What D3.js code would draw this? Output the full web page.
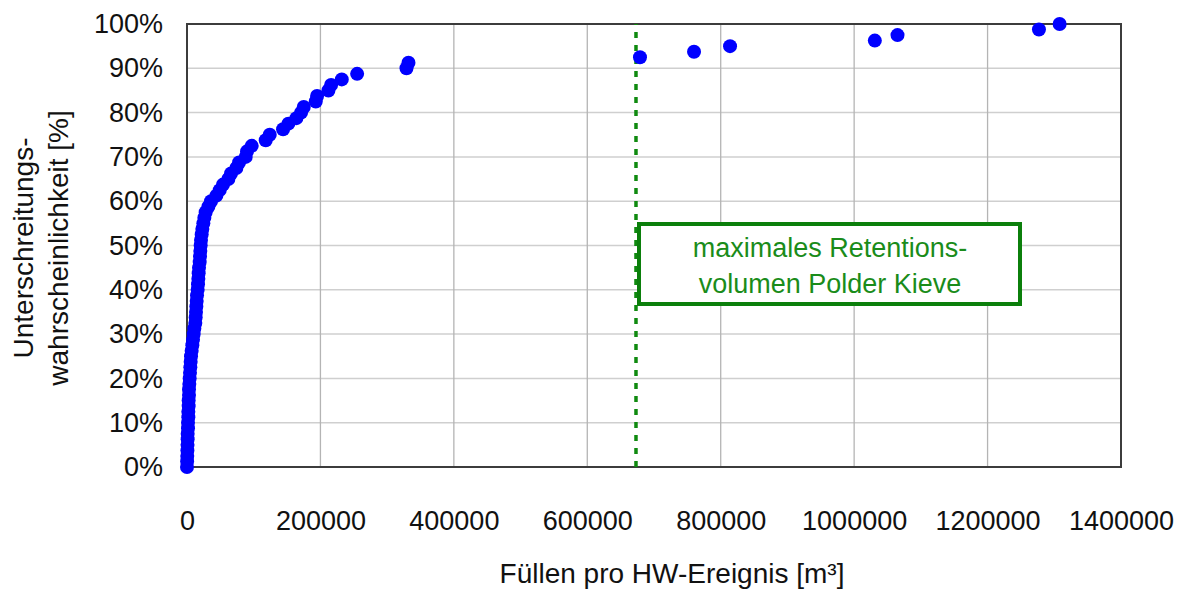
<!DOCTYPE html>
<html>
<head>
<meta charset="utf-8">
<script src="https://cdn.jsdelivr.net/npm/d3@7"></script>
<style>
  body { margin: 0; background: #fff; }
  svg { display: block; font-family: "Liberation Sans", Arial, sans-serif; }
</style>
</head>
<body>
<div id="chart"></div>
<script>
// Füllvolumen je Hochwasserereignis [m³], aufsteigend sortiert
var fuellen = [
    0, 200, 400, 600, 800, 1000, 1000, 1500, 1500, 2000,
    2000, 2500, 2500, 3000, 3000, 3500, 4000, 4500, 5000, 5500,
    6000, 7000, 8000, 9000, 10000, 11000, 12500, 13000, 13500, 14000,
    14500, 15000, 16000, 16500, 17000, 17500, 18000, 19000, 19500, 20000,
    20500, 21000, 22000, 23000, 24500, 26000, 28000, 32000, 36000, 44000,
    49000, 54000, 62000, 66000, 74000, 78000, 88000, 90000, 97000, 118000,
    124000, 144000, 152000, 164000, 171000, 175000, 193000, 195000, 212000, 216000,
    232000, 255000, 329000, 332000, 679000, 760000, 814000, 1031000, 1065000, 1277000,
    1308000
];
// Unterschreitungswahrscheinlichkeit
var wahrscheinlichkeit = [
    0, 0.0125, 0.025, 0.0375, 0.05, 0.0625, 0.075, 0.0875, 0.10, 0.1125,
    0.125, 0.1375, 0.15, 0.1625, 0.175, 0.1875, 0.20, 0.2125, 0.225, 0.2375,
    0.25, 0.2625, 0.275, 0.2875, 0.30, 0.3125, 0.325, 0.3375, 0.35, 0.3625,
    0.375, 0.3875, 0.40, 0.4125, 0.425, 0.4375, 0.45, 0.4625, 0.475, 0.4875,
    0.50, 0.5125, 0.525, 0.5375, 0.55, 0.5625, 0.575, 0.5875, 0.60, 0.6125,
    0.625, 0.6375, 0.65, 0.6625, 0.675, 0.6875, 0.70, 0.7125, 0.725, 0.7375,
    0.75, 0.7625, 0.775, 0.7875, 0.80, 0.8125, 0.825, 0.8375, 0.85, 0.8625,
    0.875, 0.8875, 0.90, 0.9125, 0.925, 0.9375, 0.95, 0.9625, 0.975, 0.9875,
    1.00
];
var xTicks = [0, 200000, 400000, 600000, 800000, 1000000, 1200000, 1400000];
var yTicks = [0, 0.1, 0.2, 0.3, 0.4, 0.5, 0.6, 0.7, 0.8, 0.9, 1.0];
var maxRetention = 673000;
var noteLines = ['maximales Retentions-', 'volumen Polder Kieve'];

var width = 1186,
    height = 590,
    margin = { top: 24, right: 65, bottom: 123, left: 187 };

var svg = d3.select('#chart').append('svg')
    .attr('width', width)
    .attr('height', height);

var x = d3.scaleLinear().domain([0, 1400000])
    .range([margin.left, width - margin.right]);
var y = d3.scaleLinear().domain([0, 1])
    .range([height - margin.bottom, margin.top]);

// gitterlinien
svg.append('g')
    .selectAll('line')
    .data(yTicks)
    .enter().append('line')
    .attr('x1', x(0)).attr('x2', x(1400000))
    .attr('y1', d => y(d)).attr('y2', d => y(d))
    .attr('stroke', '#cfcfcf')
    .attr('stroke-width', 1.5);

svg.append('g')
    .selectAll('line')
    .data(xTicks)
    .enter().append('line')
    .attr('x1', d => x(d)).attr('x2', d => x(d))
    .attr('y1', y(0)).attr('y2', y(1))
    .attr('stroke', '#b4b4b4')
    .attr('stroke-width', 1.3);

// rahmen
svg.append('rect')
    .attr('x', x(0)).attr('y', y(1))
    .attr('width', x(1400000) - x(0))
    .attr('height', y(0) - y(1))
    .attr('fill', 'none')
    .attr('stroke', '#3c3c3c')
    .attr('stroke-width', 2);

// achsen
var xAxis = svg.append('g')
    .attr('transform', `translate(0,${y(0)})`)
    .call(d3.axisBottom(x).tickValues(xTicks).tickFormat(d3.format('d')).tickSize(0).tickPadding(44));
var yAxis = svg.append('g')
    .attr('transform', `translate(${x(0)},0)`)
    .call(d3.axisLeft(y).tickValues(yTicks).tickFormat(d3.format('.0%')).tickSize(0).tickPadding(24));
[xAxis, yAxis].forEach(function(a) {
    a.select('.domain').remove();
    a.selectAll('text')
        .attr('font-family', '"Liberation Sans", Arial, sans-serif')
        .attr('font-size', 27)
        .attr('fill', '#111');
});

// grenze retentionsvolumen
svg.append('line')
    .attr('x1', x(maxRetention)).attr('x2', x(maxRetention))
    .attr('y1', y(0)).attr('y2', y(1))
    .attr('stroke', '#0f8a0f')
    .attr('stroke-width', 3.5)
    .attr('stroke-dasharray', '6,7');

// punkte
svg.append('g')
    .selectAll('circle')
    .data(fuellen)
    .enter().append('circle')
    .attr('cx', d => x(d))
    .attr('cy', (d, i) => y(wahrscheinlichkeit[i]))
    .attr('r', 7)
    .attr('fill', '#0000ff');

// hinweis
var note = svg.append('g');
note.append('rect')
    .attr('x', 639).attr('y', 224)
    .attr('width', 381).attr('height', 80)
    .attr('fill', '#fff')
    .attr('stroke', '#0b7f0b')
    .attr('stroke-width', 4);
note.selectAll('text')
    .data(noteLines)
    .enter().append('text')
    .attr('x', 830)
    .attr('y', (d, i) => 257 + i * 36)
    .attr('text-anchor', 'middle')
    .attr('font-size', 27)
    .attr('fill', '#1a8c1a')
    .text(d => d);

// achsentitel
svg.append('text')
    .attr('x', 672).attr('y', 583)
    .attr('text-anchor', 'middle')
    .attr('font-size', 28)
    .attr('fill', '#111')
    .text('Füllen pro HW-Ereignis [m³]');

var yTitle = svg.append('text')
    .attr('transform', 'translate(33,248) rotate(-90)')
    .attr('text-anchor', 'middle')
    .attr('font-size', 28)
    .attr('fill', '#111');
yTitle.append('tspan').attr('x', 0).attr('y', 0).text('Unterschreitungs-');
yTitle.append('tspan').attr('x', 0).attr('y', 35).text('wahrscheinlichkeit [%]');
</script>
</body>
</html>
